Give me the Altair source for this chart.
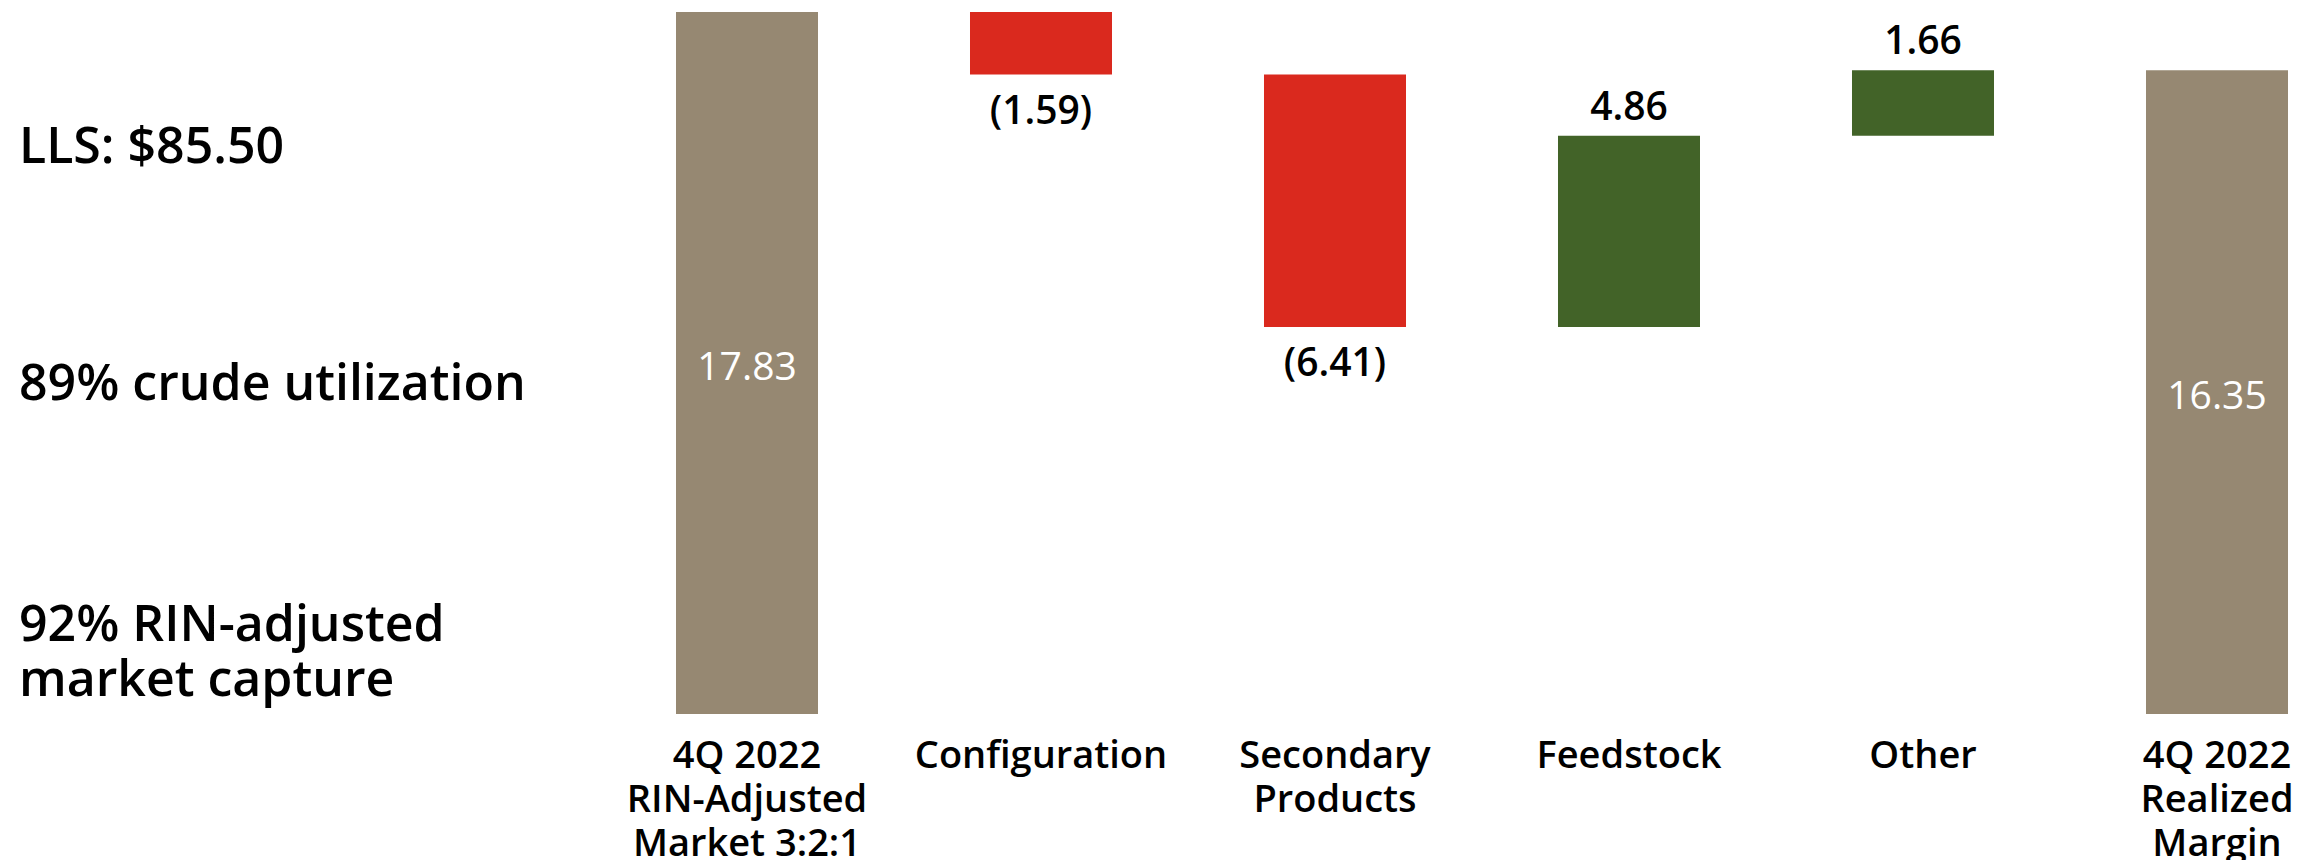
import altair as alt
import pandas as pd

categories = ["4Q 2022\nRIN-Adjusted\nMarket 3:2:1", "Configuration", "Secondary\nProducts",
              "Feedstock", "Other", "4Q 2022\nRealized\nMargin"]
values = [17.83, -1.59, -6.41, 4.86, 1.66, 16.35]
kinds = ["total", "neg", "neg", "pos", "pos", "total"]
notes = ["LLS: $85.50", "89% crude utilization", "92% RIN-adjusted", "market capture"]

rows = []
running = 0.0
for c, v, k in zip(categories, values, kinds):
    if k == "total":
        lo, hi = 0.0, v
        running = v
    else:
        lo, hi = sorted([running, running + v])
        running = running + v
    lbl = f"({abs(v):.2f})" if v < 0 else f"{v:.2f}"
    rows.append({"cat": c, "lo": lo, "hi": hi, "mid": (lo + hi) / 2, "kind": k, "label": lbl})
df = pd.DataFrame(rows)

FONT = "Open Sans"
xenc = alt.X("cat:N", sort=categories, title=None,
             scale=alt.Scale(paddingInner=0.517, paddingOuter=0),
             axis=alt.Axis(labelExpr="split(datum.label, '\\n')", labelAngle=0, domain=False, ticks=False,
                           labelFont=FONT, labelFontSize=38, labelFontWeight=600, labelColor="#000000",
                           labelLineHeight=44, labelPadding=23, labelBaseline="top", labelLimit=0,
                           labelOverlap=False))
yscale = alt.Scale(domain=[0, 17.83], nice=False, zero=True)

base = alt.Chart(df)
bars = base.mark_bar().encode(
    x=xenc,
    y=alt.Y("lo:Q", scale=yscale, axis=None),
    y2="hi:Q",
    color=alt.Color("kind:N", legend=None,
                    scale=alt.Scale(domain=["total", "neg", "pos"], range=["#968872", "#DA291E", "#426328"])),
)
tot = base.transform_filter("datum.kind == 'total'").mark_text(
    color="white", font=FONT, fontSize=39, fontWeight=500, baseline="middle", dy=5).encode(
    x=alt.X("cat:N", sort=categories), y=alt.Y("mid:Q", scale=yscale), text="label:N")
neg = base.transform_filter("datum.kind == 'neg'").mark_text(
    color="black", font=FONT, fontSize=39, fontWeight=600, baseline="middle", dy=37).encode(
    x=alt.X("cat:N", sort=categories), y=alt.Y("lo:Q", scale=yscale), text="label:N")
pos = base.transform_filter("datum.kind == 'pos'").mark_text(
    color="black", font=FONT, fontSize=39, fontWeight=600, baseline="middle", dy=-28).encode(
    x=alt.X("cat:N", sort=categories), y=alt.Y("hi:Q", scale=yscale), text="label:N")

note_y = [136, 373, 614, 669]
note_layers = []
for t, yy in zip(notes, note_y):
    note_layers.append(alt.Chart(df).transform_filter("datum.kind == 'total'").transform_sample(1).mark_text(
        font=FONT, fontSize=50, fontWeight=600, color="black", align="left", baseline="middle").encode(
        x=alt.value(-657), y=alt.value(yy), text=alt.value(t)))

chart = alt.layer(bars, tot, neg, pos, *note_layers).properties(
    width=1612, height=702,
    padding={"left": 676, "top": 12, "right": 10, "bottom": 146},
    autosize=alt.AutoSizeParams(type="none"),
    background="white",
).configure_view(stroke=None)

chart.save("out.html", embed_options={"renderer": "svg", "actions": False})
